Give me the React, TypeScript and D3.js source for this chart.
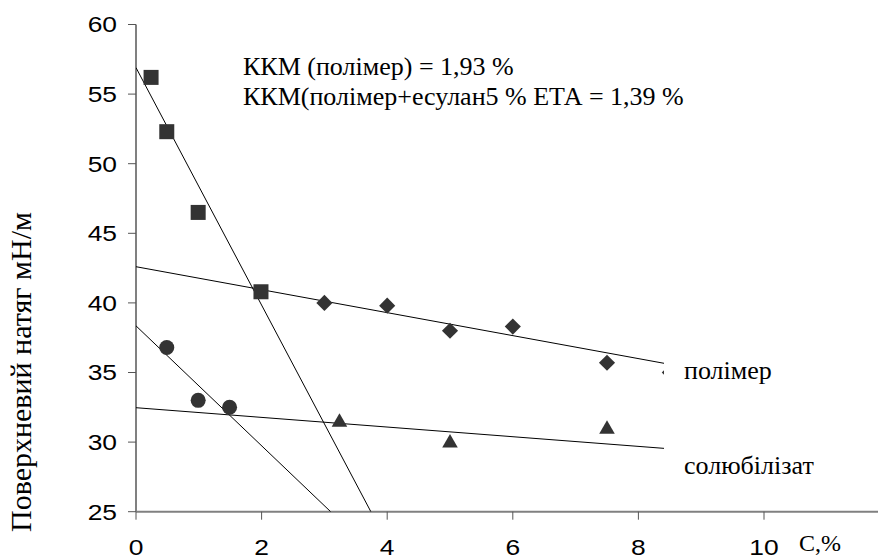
import React from 'react';
import * as d3 from 'd3';

// squares: полімер below CMC
const squareX = [0.24, 0.49, 0.99, 1.99];
const squareY = [56.2, 52.3, 46.5, 40.8];
// diamonds: полімер above CMC
const diamondX = [3, 4, 5, 6, 7.5, 8.5];
const diamondY = [40.0, 39.8, 38.0, 38.3, 35.7, 35.0];
// circles: солюбілізат below CMC
const circleX = [0.49, 0.99, 1.49];
const circleY = [36.8, 33.0, 32.5];
// triangles: солюбілізат above CMC
const triangleX = [3.24, 5, 7.5];
const triangleY = [31.5, 30.0, 31.0];

// trend lines, [x, y] end points
const trendLines: [number, number][][] = [
  [[0, 56.9], [3.74, 25]],
  [[0, 42.6], [8.41, 35.66]],
  [[0, 38.35], [3.1, 25]],
  [[0, 32.47], [8.41, 29.55]],
];

const xTicks = [0, 2, 4, 6, 8, 10];
const yTicks = [25, 30, 35, 40, 45, 50, 55, 60];

const annotation = ['ККМ (полімер) = 1,93 %', 'ККМ(полімер+есулан5 % ЕТА = 1,39 %'];
const yTitle = 'Поверхневий натяг  мН/м';

const W = 878;
const H = 557;
const left = 136;
const bottom = 511.7;
const plotRight = 664;

const App = () => {
  const x = d3.scaleLinear().domain([0, 10]).range([left, 764]);
  const y = d3.scaleLinear().domain([25, 60]).range([bottom, 24.5]);
  const line = d3.line<[number, number]>().x(d => x(d[0])).y(d => y(d[1]));
  const sym = (type: d3.SymbolType, size: number) => d3.symbol().type(type).size(size)() as string;
  const markFill = '#333333';
  const serif = '"Liberation Serif", "Times New Roman", serif';
  const sans = '"Liberation Sans", Arial, sans-serif';

  return (
    <svg width={W} height={H} style={{ position: 'absolute', left: 0, top: 0, background: '#fff' }}>
      <defs>
        <clipPath id="plot">
          <rect x={left} y={0} width={plotRight - left} height={bottom} />
        </clipPath>
      </defs>

      {/* axes */}
      <line x1={left} y1={y(60)} x2={left} y2={bottom} stroke="#808080" strokeWidth={2} />
      <line x1={left} y1={bottom} x2={W} y2={bottom} stroke="#808080" strokeWidth={2} />
      {yTicks.map(t => (
        <g key={`y${t}`}>
          <line x1={left - 8} x2={left} y1={y(t)} y2={y(t)} stroke="#555" strokeWidth={1} />
          <text transform={`translate(117, ${y(t) + 7.8}) scale(1.2, 1)`} textAnchor="end" fontFamily={sans} fontSize={22} fill="#000">{t}</text>
        </g>
      ))}
      {xTicks.map(t => (
        <g key={`x${t}`}>
          <line x1={x(t)} x2={x(t)} y1={bottom} y2={bottom + 8} stroke="#555" strokeWidth={1} />
          <text transform={`translate(${x(t)}, 555) scale(1.2, 1)`} textAnchor="middle" fontFamily={sans} fontSize={22} fill="#000">{t}</text>
        </g>
      ))}

      <g clipPath="url(#plot)">
        {trendLines.map((l, i) => (
          <path key={i} d={line(l) as string} fill="none" stroke="#000" strokeWidth={1} />
        ))}
        {squareX.map((v, i) => (
          <rect key={`s${i}`} x={x(v) - 7.5} y={y(squareY[i]) - 7.5} width={15} height={15} fill={markFill} />
        ))}
        {diamondX.map((v, i) => (
          <path key={`d${i}`} d={sym(d3.symbolSquare, 130)} transform={`translate(${x(v)},${y(diamondY[i])}) rotate(45)`} fill={markFill} />
        ))}
        {circleX.map((v, i) => (
          <circle key={`c${i}`} cx={x(v)} cy={y(circleY[i])} r={7.5} fill={markFill} />
        ))}
        {triangleX.map((v, i) => (
          <path key={`t${i}`} d={sym(d3.symbolTriangle, 105)} transform={`translate(${x(v)},${y(triangleY[i]) + 1})`} fill={markFill} />
        ))}
      </g>

      {/* texts */}
      {annotation.map((s, i) => (
        <text key={s} x={243} y={75 + i * 30} fontFamily={serif} fontSize={26} fill="#000">{s}</text>
      ))}
      <text x={684} y={379} fontFamily={serif} fontSize={26} fill="#000">полімер</text>
      <text x={684} y={474} fontFamily={serif} fontSize={26} fill="#000">солюбілізат</text>
      <text x={799} y={551} fontFamily={serif} fontSize={24} fill="#000">С,%</text>
      <text transform={`translate(31, 372) rotate(-90)`} textAnchor="middle" fontFamily={serif} fontSize={30} fill="#000">{yTitle}</text>
    </svg>
  );
};

export default App;
